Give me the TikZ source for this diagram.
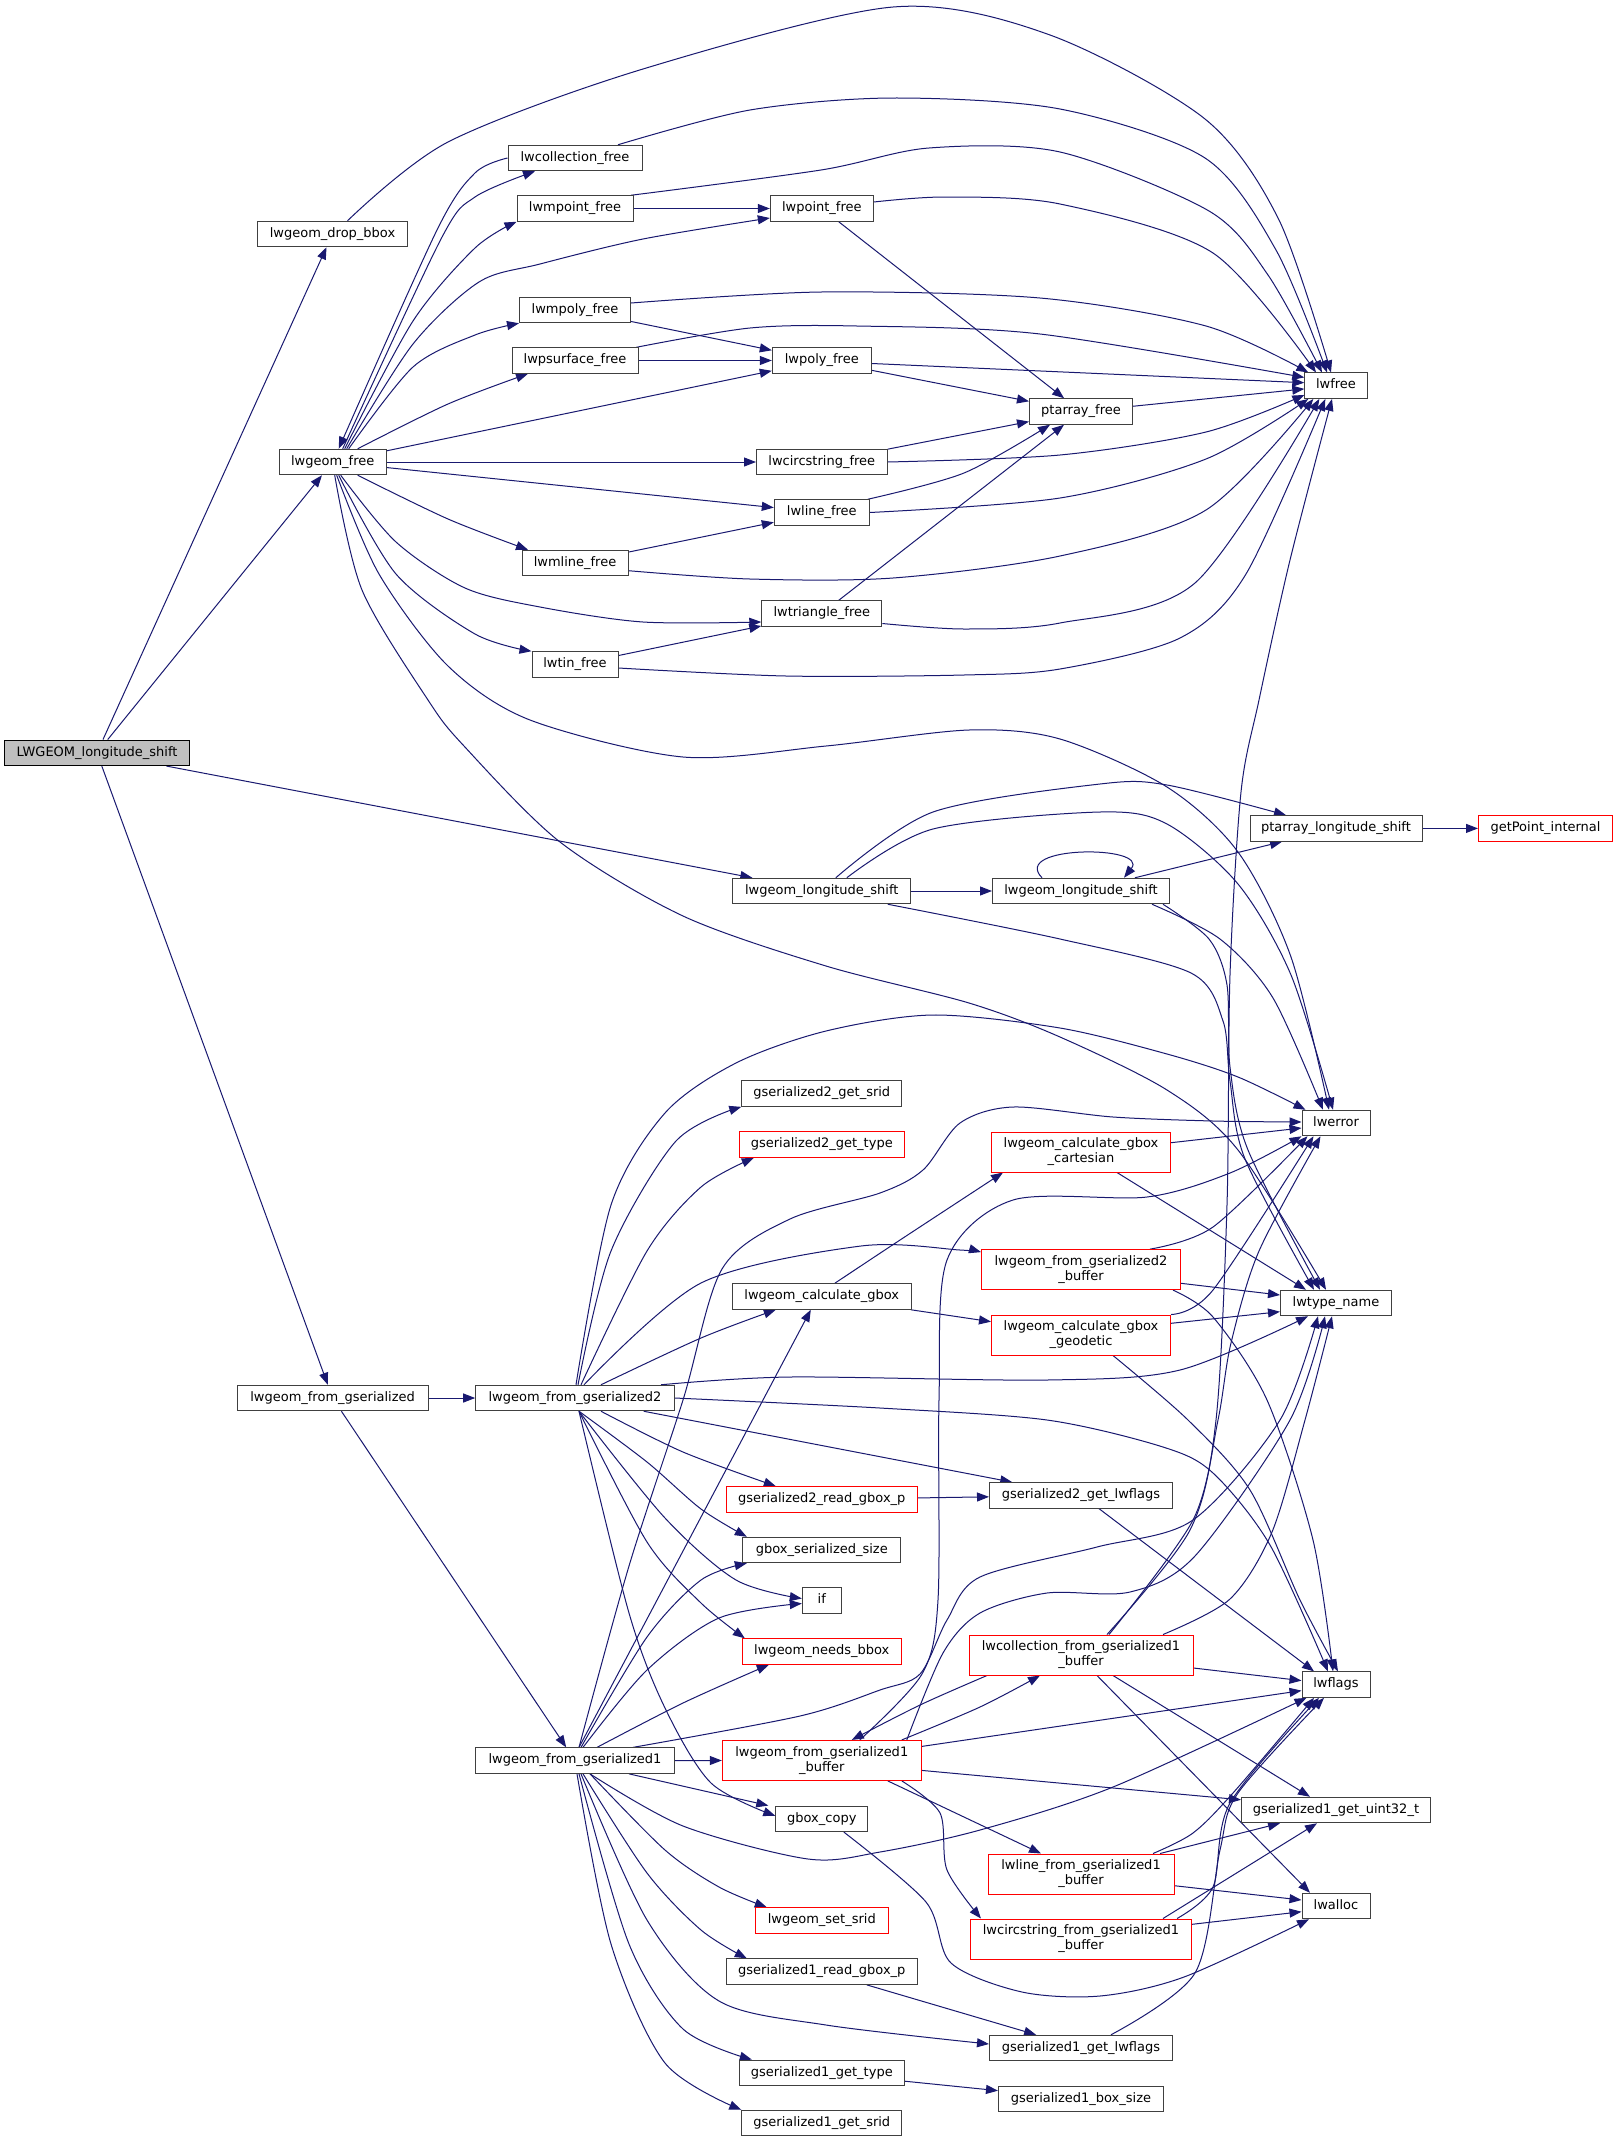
\documentclass[tikz,border=0pt]{standalone}
\usepackage{fontspec}
\setmainfont{DejaVu Sans}
\usetikzlibrary{arrows.meta}
\pgfdeclarelayer{bglayer}
\pgfdeclarelayer{edgelayer}
\pgfsetlayers{bglayer,edgelayer,main}
\definecolor{edgec}{HTML}{191970}
\definecolor{nodeb}{HTML}{404040}
\definecolor{rootf}{HTML}{BFBFBF}
\definecolor{trunc}{HTML}{FF0000}
\begin{document}
\begin{tikzpicture}[x=1pt,y=-1pt,
  box/.style={draw=nodeb, fill=white, line width=1pt, inner sep=0pt, minimum height=25.5pt, text height=9.5pt, text depth=3pt, font=\fontsize{13}{15}\selectfont},
  box2/.style={draw=nodeb, fill=white, line width=1pt, inner sep=0pt, minimum height=40pt, align=center, font=\fontsize{13}{15}\selectfont},
  redb/.style={draw=trunc},
  rootbox/.style={draw=black, fill=rootf},
  e/.style={draw=edgec, line width=1pt, -{Triangle[length=12pt,width=9pt]}}]
\useasboundingbox (0,0) rectangle (1617,2142);
\begin{pgfonlayer}{bglayer}
\fill[white] (0,0) rectangle (1617,2142);
\end{pgfonlayer}

% nodes
\node[box,rootbox,minimum width=184.7pt] (root) at (97,752.8) {LWGEOM\_longitude\_shift};
\node[box,minimum width=150pt] (dropbbox) at (332.5,234) {lwgeom\_drop\_bbox};
\node[box,minimum width=107.4pt] (gfree) at (332.7,462) {lwgeom\_free};
\node[box,minimum width=191pt] (fromgs) at (332.6,1398) {lwgeom\_from\_gserialized};
\node[box,minimum width=134pt] (collfree) at (575,158) {lwcollection\_free};
\node[box,minimum width=116pt] (mpointfree) at (575,208.5) {lwmpoint\_free};
\node[box,minimum width=111pt] (mpolyfree) at (575,310) {lwmpoly\_free};
\node[box,minimum width=126pt] (psurffree) at (575,360.5) {lwpsurface\_free};
\node[box,minimum width=106pt] (mlinefree) at (575,563) {lwmline\_free};
\node[box,minimum width=86pt] (tinfree) at (575,664.5) {lwtin\_free};
\node[box,minimum width=198.6pt] (fromgs2) at (575,1398) {lwgeom\_from\_gserialized2};
\node[box,minimum width=198.6pt] (fromgs1) at (575,1760.6) {lwgeom\_from\_gserialized1};
\node[box,minimum width=103pt] (pointfree) at (821.8,208.5) {lwpoint\_free};
\node[box,minimum width=99pt] (polyfree) at (821.8,360.5) {lwpoly\_free};
\node[box,minimum width=130.6pt] (circfree) at (821.8,462) {lwcircstring\_free};
\node[box,minimum width=95pt] (linefree) at (821.8,512.5) {lwline\_free};
\node[box,minimum width=120pt] (trifree) at (821.8,613.5) {lwtriangle\_free};
\node[box,minimum width=178pt] (lonshift) at (821.8,891) {lwgeom\_longitude\_shift};
\node[box,minimum width=160pt] (g2srid) at (821.8,1093.6) {gserialized2\_get\_srid};
\node[box,redb,minimum width=165.6pt] (g2type) at (821.8,1144.7) {gserialized2\_get\_type};
\node[box,minimum width=179pt] (calcgbox) at (821.8,1296.5) {lwgeom\_calculate\_gbox};
\node[box,redb,minimum width=190.6pt] (g2readgbox) at (821.8,1499.4) {gserialized2\_read\_gbox\_p};
\node[box,minimum width=158pt] (gboxsize) at (821.8,1550) {gbox\_serialized\_size};
\node[box,minimum width=39pt] (ifn) at (821.8,1600.5) {if};
\node[box,redb,minimum width=159pt] (needsbbox) at (821.8,1651.5) {lwgeom\_needs\_bbox};
\node[box2,redb,minimum width=199pt] (fromgs1buf) at (821.8,1760.4) {lwgeom\_from\_gserialized1\\\_buffer};
\node[box,minimum width=92pt] (gboxcopy) at (821.8,1818.8) {gbox\_copy};
\node[box,redb,minimum width=133pt] (setsrid) at (821.8,1920.5) {lwgeom\_set\_srid};
\node[box,minimum width=190.6pt] (g1readgbox) at (821.8,1971.6) {gserialized1\_read\_gbox\_p};
\node[box,minimum width=165.6pt] (g1type) at (821.8,2072.8) {gserialized1\_get\_type};
\node[box,minimum width=160pt] (g1srid) at (821.8,2123) {gserialized1\_get\_srid};
\node[box,minimum width=103pt] (ptfree) at (1081,411.5) {ptarray\_free};
\node[box,minimum width=177pt] (lonshift2) at (1081,891) {lwgeom\_longitude\_shift};
\node[box2,redb,minimum width=179pt] (cart) at (1081,1152) {lwgeom\_calculate\_gbox\\\_cartesian};
\node[box2,redb,minimum width=199pt] (fromgs2buf) at (1081,1269.6) {lwgeom\_from\_gserialized2\\\_buffer};
\node[box2,redb,minimum width=179pt] (geod) at (1081,1335) {lwgeom\_calculate\_gbox\\\_geodetic};
\node[box,minimum width=183pt] (g2lwflags) at (1081,1495.4) {gserialized2\_get\_lwflags};
\node[box2,redb,minimum width=224pt] (collfromgs1) at (1081,1655) {lwcollection\_from\_gserialized1\\\_buffer};
\node[box2,redb,minimum width=186pt] (linefromgs1) at (1081,1874) {lwline\_from\_gserialized1\\\_buffer};
\node[box2,redb,minimum width=221pt] (circfromgs1) at (1081,1939) {lwcircstring\_from\_gserialized1\\\_buffer};
\node[box,minimum width=183pt] (g1lwflags) at (1081,2048) {gserialized1\_get\_lwflags};
\node[box,minimum width=165pt] (g1boxsize) at (1081,2099) {gserialized1\_box\_size};
\node[box,minimum width=62.4pt] (lwfree) at (1336,385.7) {lwfree};
\node[box,minimum width=172pt] (ptlonshift) at (1336,828.4) {ptarray\_longitude\_shift};
\node[box,minimum width=68pt] (lwerror) at (1336,1123) {lwerror};
\node[box,minimum width=111pt] (lwtypename) at (1336,1303) {lwtype\_name};
\node[box,minimum width=68pt] (lwflags) at (1336,1684.6) {lwflags};
\node[box,minimum width=189pt] (g1uint32) at (1336,1810) {gserialized1\_get\_uint32\_t};
\node[box,minimum width=68pt] (lwalloc) at (1336,1906) {lwalloc};
\node[box,redb,minimum width=134pt] (getpoint) at (1545.5,828.4) {getPoint\_internal};

\begin{pgfonlayer}{edgelayer}
% root
\draw[e] (root) -- (dropbbox);
\draw[e] (root) -- (gfree);
\draw[e] (root) -- (lonshift);
\draw[e] (root) -- (fromgs);
% to lwfree
\draw[e] plot[smooth] coordinates {([xshift=15pt]dropbbox.north) (448,142) (643,69) (893,7) (1050,35) (1205,119) (1279,220) ([xshift=-5pt]lwfree.north)};
\draw[e] plot[smooth] coordinates {([xshift=43pt]collfree.north) (750,110) (893,98) (1060,109) (1205,158) (1276,250) ([xshift=-9pt]lwfree.north)};
\draw[e] plot[smooth] coordinates {([xshift=56pt]mpointfree.north) (821,170) (929,148) (1060,152) (1209,211) (1268,275) ([xshift=-14pt]lwfree.north)};
\draw[e] plot[smooth] coordinates {([yshift=6.5pt]pointfree.east) (946,197) (1060,204) (1213,253) ([xshift=-20pt]lwfree.north)};
\draw[e] plot[smooth] coordinates {([yshift=7pt]mpolyfree.east) (821,292) (1040,298) (1206,326) ([xshift=4pt]lwfree.north west)};
\draw[e] plot[smooth] coordinates {([xshift=-2pt]psurffree.north east) (750,328) (857,326) (1040,334) ([yshift=-5pt]lwfree.north west)};
\draw[e] ([yshift=-3pt]polyfree.east) -- ([yshift=3pt]lwfree.west);
\draw[e] (ptfree) -- (lwfree);
\draw[e] plot[smooth] coordinates {(circfree.east) (1060,455) (1206,432) ([yshift=4pt]lwfree.south west)};
\draw[e] plot[smooth] coordinates {(linefree.east) (1060,498) (1206,459) ([xshift=4pt]lwfree.south west)};
\draw[e] plot[smooth] coordinates {([yshift=-7.7pt]mlinefree.east) (750,579) (893,578) (1060,556) (1206,510) ([xshift=9pt]lwfree.south west)};
\draw[e] plot[smooth] coordinates {([yshift=-10pt]trifree.east) (964,629) (1060,623) (1195,583) ([xshift=15pt]lwfree.south west)};
\draw[e] plot[smooth] coordinates {([yshift=-3.5pt]tinfree.east) (786,676) (964,675) (1060,669) (1180,638) (1246,574) ([xshift=21pt]lwfree.south west)};
\draw[e] plot[smooth] coordinates {([xshift=26pt]collfromgs1.north) (1190,1530) (1216,1420) (1227,1205) (1230,975) (1241,792) (1259,700) (1290,560) ([xshift=-4pt]lwfree.south)};
% free functions
\draw[e] (mpointfree) -- (pointfree);
\draw[e] (pointfree) -- (ptfree);
\draw[e] (mpolyfree) -- (polyfree);
\draw[e] (psurffree) -- (polyfree);
\draw[e] (polyfree) -- (ptfree);
\draw[e] (circfree) -- (ptfree);
\draw[e] plot[smooth] coordinates {([xshift=-2pt]linefree.north east) (964,473) ([xshift=-31pt]ptfree.south)};
\draw[e] (mlinefree) -- (linefree);
\draw[e] (trifree) -- (ptfree);
\draw[e] (tinfree) -- (trifree);
% lwgeom_free
\draw[e] plot[smooth] coordinates {([xshift=10pt]gfree.north) (441,239) (475,197) ([xshift=-40pt]collfree.south)};
\draw[e] plot[smooth] coordinates {(collfree.west) (475,173) (437,230) ([xshift=6pt]gfree.north)};
\draw[e] plot[smooth] coordinates {([xshift=12pt]gfree.north) (413,321) (475,248) (mpointfree.south west)};
\draw[e] plot[smooth] coordinates {([xshift=14pt]gfree.north) (413,344) (479,282) (540,264) (643,239) ([yshift=-9.5pt]pointfree.west)};
\draw[e] plot[smooth] coordinates {([xshift=16pt]gfree.north) (413,367) (475,335) (mpolyfree.south west)};
\draw[e] plot[smooth] coordinates {([xshift=25pt]gfree.north) (448,404) ([xshift=-47pt]psurffree.south)};
\draw[e] (gfree) -- (polyfree);
\draw[e] (gfree) -- (circfree);
\draw[e] (gfree) -- (linefree);
\draw[e] plot[smooth] coordinates {([xshift=25pt]gfree.south) (448,519) ([xshift=-47pt]mlinefree.north)};
\draw[e] plot[smooth] coordinates {([xshift=8pt]gfree.south) (396,542) (465,588) (540,607) (643,622) ([yshift=-8.5pt]trifree.west)};
\draw[e] plot[smooth] coordinates {([xshift=6pt]gfree.south) (396,574) (475,634) (tinfree.north west)};
\draw[e] plot[smooth] coordinates {([xshift=4pt]gfree.south) (379,574) (448,666) (530,720) (683,757) (826,746) (969,730) (1060,739) (1167,787) (1238,852) (1291,957) ([xshift=-7pt]lwerror.north)};
\draw[e] plot[smooth] coordinates {([xshift=2pt]gfree.south) (362,590) (428,700) (464,746) (560,842) (683,916) (826,966) (969,1003) (1060,1037) (1167,1090) (1238,1150) ([xshift=-10pt]lwtypename.north)};
% longitude shift
\draw[e] (lonshift) -- (lonshift2);
\draw[e] plot[smooth] coordinates {([xshift=14pt]lonshift.north) (933,812) (1100,784) (1167,785) ([xshift=-50pt]ptlonshift.north)};
\draw[e] plot[smooth] coordinates {([xshift=25pt]lonshift.north) (933,829) (1100,812) (1167,824) (1238,884) (1291,975) ([xshift=-3pt]lwerror.north)};
\draw[e] plot[smooth] coordinates {([xshift=66pt]lonshift.south) (1060,939) (1191,973) (1223,1021) (1230,1081) (1245,1159) ([xshift=-22pt]lwtypename.north)};
\draw[e] ([xshift=-39pt]lonshift2.north) .. controls (1010,845) and (1150,845) .. ([xshift=43pt]lonshift2.north);
\draw[e] (lonshift2) -- (ptlonshift);
\draw[e] plot[smooth] coordinates {([xshift=71pt]lonshift2.south) (1220,939) (1273,998) ([xshift=-13pt]lwerror.north)};
\draw[e] plot[smooth] coordinates {([xshift=82pt]lonshift2.south) (1209,939) (1227,985) (1230,1067) (1248,1150) ([xshift=-16pt]lwtypename.north)};
\draw[e] (ptlonshift) -- (getpoint);
% from gserialized
\draw[e] (fromgs) -- (fromgs2);
\draw[e] (fromgs) -- (fromgs1);
% from gserialized2
\draw[e] plot[smooth] coordinates {([xshift=1pt]fromgs2.north) (611,1205) (665,1113) (736,1063) (826,1031) (933,1015) (1060,1028) (1167,1054) (1238,1077) ([xshift=4pt]lwerror.north west)};
\draw[e] plot[smooth] coordinates {([xshift=3pt]fromgs2.north) (611,1251) (676,1141) (g2srid.south west)};
\draw[e] plot[smooth] coordinates {([xshift=6pt]fromgs2.north) (647,1251) (701,1187) ([xshift=-68pt]g2type.south)};
\draw[e] plot[smooth] coordinates {([xshift=9pt]fromgs2.north) (701,1283) (861,1246) (960,1250) ([yshift=-3pt]fromgs2buf.north west)};
\draw[e] plot[smooth] coordinates {([xshift=26pt]fromgs2.north) (701,1338) ([xshift=-46pt]calcgbox.south)};
\draw[e] plot[smooth] coordinates {([xshift=86pt]fromgs2.north) (790,1377) (1047,1380) (1180,1370) ([xshift=-28pt]lwtypename.south)};
\draw[e] plot[smooth] coordinates {(fromgs2.east) (880,1408) (1047,1420) (1163,1447) (1213,1473) (1270,1545) ([xshift=-8pt]lwflags.north)};
\draw[e] (fromgs2) -- (g2lwflags);
\draw[e] plot[smooth] coordinates {([xshift=26pt]fromgs2.south) (683,1452) ([xshift=-46pt]g2readgbox.north)};
\draw[e] plot[smooth] coordinates {([xshift=4pt]fromgs2.south) (647,1462) (701,1509) ([xshift=-75pt]gboxsize.north)};
\draw[e] plot[smooth] coordinates {([xshift=4pt]fromgs2.south) (665,1518) (736,1580) ([yshift=2pt]ifn.west)};
\draw[e] plot[smooth] coordinates {([xshift=4pt]fromgs2.south) (647,1542) (701,1603) ([xshift=-77pt]needsbbox.north)};
\draw[e] plot[smooth] coordinates {([xshift=4pt]fromgs2.south) (629,1613) (665,1708) (711,1783) ([yshift=3pt]gboxcopy.west)};
% calculate gbox
\draw[e] plot[smooth] coordinates {([xshift=13pt]calcgbox.north) (897,1242) ([xshift=-78pt]cart.south)};
\draw[e] (calcgbox) -- (geod);
\draw[e] ([yshift=9.3pt]cart.east) -- ([yshift=-5pt]lwerror.west);
\draw[e] ([xshift=36pt]cart.south) -- ([xshift=-30pt]lwtypename.north);
\draw[e] plot[smooth] coordinates {([xshift=69pt]fromgs2buf.north) (1213,1227) ([xshift=6pt]lwerror.south west)};
\draw[e] ([yshift=-13.7pt]fromgs2buf.east) -- ([yshift=8pt]lwtypename.west);
\draw[e] plot[smooth] coordinates {([xshift=92pt]fromgs2buf.south) (1213,1317) (1267,1400) (1313,1540) ([xshift=-3pt]lwflags.north)};
\draw[e] plot[smooth] coordinates {(geod.north east) (1213,1290) ([xshift=12pt]lwerror.south west)};
\draw[e] ([yshift=11.7pt]geod.east) -- ([yshift=-8.7pt]lwtypename.west);
\draw[e] plot[smooth] coordinates {([xshift=32pt]geod.south) (1188,1420) (1250,1490) (1300,1600) ([xshift=2pt]lwflags.north)};
\draw[e] (g2readgbox) -- (g2lwflags);
\draw[e] ([xshift=18pt]g2lwflags.south) -- ([xshift=-22pt]lwflags.north);
% from gserialized1
\draw[e] plot[smooth] coordinates {([xshift=4pt]fromgs1.north) (629,1566) (683,1400) (722,1269) (790,1219) (880,1193) (923,1170) (960,1123) (1013,1107) (1113,1117) (1213,1121) ([yshift=1pt]lwerror.west)};
\draw[e] ([xshift=4pt]fromgs1.north) -- ([xshift=-11pt]calcgbox.south);
\draw[e] plot[smooth] coordinates {([xshift=6pt]fromgs1.north) (647,1637) (701,1580) ([xshift=-75pt]gboxsize.south)};
\draw[e] plot[smooth] coordinates {([xshift=8pt]fromgs1.north) (647,1670) (719,1618) ([yshift=-3pt]ifn.west)};
\draw[e] plot[smooth] coordinates {([xshift=22pt]fromgs1.north) (683,1703) ([xshift=-53pt]needsbbox.south)};
\draw[e] plot[smooth] coordinates {([xshift=58pt]fromgs1.north) (800,1716) (880,1690) (920,1674) (947,1620) (980,1577) (1097,1547) (1193,1520) (1280,1420) ([xshift=-18pt]lwtypename.south)};
\draw[e] (fromgs1) -- (fromgs1buf);
\draw[e] ([xshift=54pt]fromgs1.south) -- ([xshift=-7pt]gboxcopy.north west);
\draw[e] plot[smooth] coordinates {([xshift=15pt]fromgs1.south) (683,1826) (808,1859) (880,1852) (980,1830) (1113,1787) ([xshift=5pt]lwflags.south west)};
\draw[e] plot[smooth] coordinates {([xshift=15pt]fromgs1.south) (665,1850) (719,1887) ([xshift=-55pt]setsrid.north)};
\draw[e] plot[smooth] coordinates {([xshift=8pt]fromgs1.south) (647,1873) (701,1930) ([xshift=-75pt]g1readgbox.north)};
\draw[e] plot[smooth] coordinates {([xshift=6pt]fromgs1.south) (647,1920) (719,2001) (826,2025) ([yshift=4pt]g1lwflags.west)};
\draw[e] plot[smooth] coordinates {([xshift=4pt]fromgs1.south) (629,1944) (683,2029) ([xshift=-70pt]g1type.north)};
\draw[e] plot[smooth] coordinates {([xshift=2pt]fromgs1.south) (611,1944) (665,2063) (g1srid.north west)};
\draw[e] (g1readgbox) -- (g1lwflags);
\draw[e] (g1type) -- (g1boxsize);
% from gserialized1 buffer
\draw[e] plot[smooth] coordinates {([xshift=80pt]fromgs1buf.north) (980,1707) ([xshift=-41pt]collfromgs1.south)};
\draw[e] plot[smooth] coordinates {([xshift=38pt]fromgs1buf.north) (922,1674) (938,1600) (939,1400) (947,1260) (1013,1200) (1147,1197) (1230,1173) (lwerror.south west)};
\draw[e] plot[smooth] coordinates {([xshift=85pt]fromgs1buf.north) (943,1653) (980,1613) (1047,1593) (1130,1592) (1195,1556) (1290,1420) ([xshift=-11pt]lwtypename.south)};
\draw[e] ([xshift=66pt]fromgs1buf.south) -- ([xshift=-40pt]linefromgs1.north);
\draw[e] plot[smooth] coordinates {([xshift=80pt]fromgs1buf.south) (940,1813) (947,1870) ([xshift=-100pt]circfromgs1.north)};
\draw[e] ([yshift=14pt]fromgs1buf.east) -- ([yshift=-6pt]lwflags.west);
\draw[e] ([yshift=-10pt]fromgs1buf.east) -- ([yshift=-3pt]g1uint32.north west);
% collection from gserialized1 buffer
\draw[e] plot[smooth] coordinates {([xshift=-94pt]collfromgs1.south) (920,1705) ([xshift=30pt]fromgs1buf.north)};
\draw[e] ([yshift=-13pt]collfromgs1.east) -- ([yshift=4pt]lwflags.west);
\draw[e] ([xshift=32pt]collfromgs1.south) -- ([xshift=-26pt]g1uint32.north);
\draw[e] ([xshift=16pt]collfromgs1.south) -- ([xshift=-26pt]lwalloc.north);
\draw[e] plot[smooth] coordinates {([xshift=28pt]collfromgs1.north) (1193,1520) (1218,1420) (1231,1343) (1259,1251) ([xshift=19pt]lwerror.south west)};
\draw[e] plot[smooth] coordinates {([xshift=82pt]collfromgs1.north) (1230,1599) (1272,1532) (1305,1420) ([xshift=-4pt]lwtypename.south)};
% line / circstring
\draw[e] plot[smooth] coordinates {([xshift=72pt]linefromgs1.north) (1193,1833) (1233,1793) ([xshift=-22pt]lwflags.south)};
\draw[e] ([xshift=79pt]linefromgs1.north) -- ([xshift=-56pt]g1uint32.south);
\draw[e] ([yshift=-11.7pt]linefromgs1.east) -- ([yshift=6pt]lwalloc.west);
\draw[e] plot[smooth] coordinates {([xshift=96pt]circfromgs1.north) (1213,1887) (1230,1803) ([xshift=-17pt]lwflags.south)};
\draw[e] ([xshift=82pt]circfromgs1.north) -- ([xshift=-19pt]g1uint32.south);
\draw[e] ([yshift=14.7pt]circfromgs1.east) -- ([yshift=-5.7pt]lwalloc.west);
\draw[e] plot[smooth] coordinates {([xshift=30pt]g1lwflags.north) (1195,1973) (1220,1850) (1238,1793) ([xshift=-12pt]lwflags.south)};
\draw[e] plot[smooth] coordinates {([xshift=22pt]gboxcopy.south) (926,1902) (951,1963) (1022,1992) (1100,1996) (1184,1977) ([xshift=-27pt]lwalloc.south)};
\end{pgfonlayer}
\end{tikzpicture}
\end{document}
